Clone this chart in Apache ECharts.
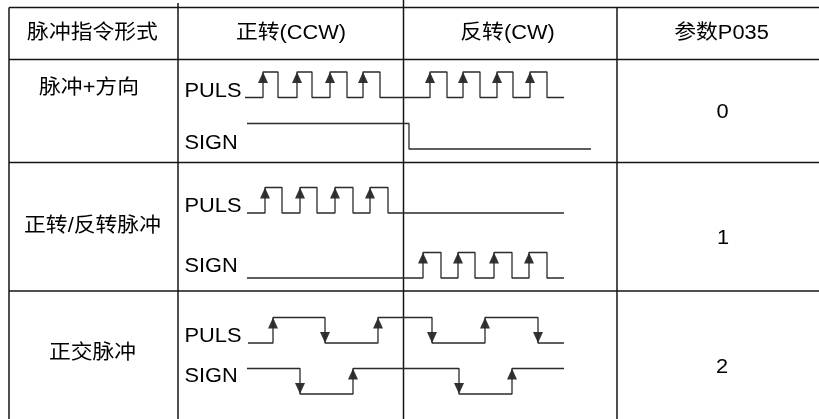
<!DOCTYPE html>
<html><head><meta charset="utf-8">
<script src="https://cdn.jsdelivr.net/npm/echarts@6/dist/echarts.min.js"></script>
<style>html,body{margin:0;padding:0;background:#fff}#c{width:819px;height:419px}</style>
</head><body><div id="c"></div>
<script>
// ---------- data ----------
const headers = ['脉冲指令形式', '正转(CCW)', '反转(CW)', '参数P035'];
const modes = ['脉冲+方向', '正转/反转脉冲', '正交脉冲'];
const paramValues = ['0', '1', '2'];
const signalNames = ['PULS', 'SIGN'];

// edge times (time units) of each waveform
const puls1Edges = [2.3, 3.8, 5.7, 7.2, 9.0, 10.7, 12.3, 14.0, 19.0, 20.7, 22.3, 24.0, 25.7, 27.3, 29.0, 30.7];
const sign1Edges = [16.9];
const puls2Edges = [2.5, 4.2, 6.0, 7.7, 9.5, 11.3, 13.0, 14.8];
const sign2Edges = [18.3, 20.1, 21.8, 23.5, 25.4, 27.2, 28.9, 30.7];
const puls3Edges = [3.3, 8.5, 13.8, 19.2, 24.5, 29.8];
const sign3Edges = [6.0, 11.3, 21.9, 27.2];
const waveStart = [0.5, 0.7, 0.7, 0.7, 0.8, 0.7];
const waveEnd = [32.4, 35.1, 32.4, 32.4, 32.4, 32.4];
const waveInit = [0, 1, 0, 0, 0, 1];
const waveEdges = [puls1Edges, sign1Edges, puls2Edges, sign2Edges, puls3Edges, sign3Edges];

// ---------- layout ----------
const LANE_LOW = [97.5, 149, 213, 278, 343, 394];
const AMP = 25.5;
const ARROW_MODE = ['rise', 'none', 'rise', 'rise', 'both', 'both'];
const LABEL_Y = [91, 143, 206, 266, 336, 376];
const COLS = [9, 178, 403.5, 617];
const ROWS = [7.5, 59.5, 162.5, 291];
const HEADER_X = [92.5, 291, 507.5, 721.5];
const HEADER_Y = 33;
const MODE_X = [89, 92.5, 92.5];
const MODE_Y = [88.5, 226.5, 353.5];
const PARAM_X = [722.5, 723, 722];
const PARAM_Y = [112.5, 238.5, 367.5];
const FONT = '"Liberation Sans", "Noto Sans CJK SC", sans-serif';
const SX = 1.09;

function wavePoints(i) {
  const low = LANE_LOW[i], high = low - AMP;
  const y = l => (l ? high : low);
  let lvl = waveInit[i];
  const pts = [[waveStart[i], y(lvl)]];
  waveEdges[i].forEach(t => { pts.push([t, y(lvl)]); lvl = 1 - lvl; pts.push([t, y(lvl)]); });
  pts.push([waveEnd[i], y(lvl)]);
  return pts;
}
function arrowPoints(i) {
  const low = LANE_LOW[i], high = low - AMP, mode = ARROW_MODE[i];
  let lvl = waveInit[i];
  const out = [];
  waveEdges[i].forEach(t => {
    const rising = lvl === 0; lvl = 1 - lvl;
    if (mode === 'none') return;
    if (rising) out.push({ value: [t, high], symbolRotate: 0, symbolOffset: [0, 5.5] });
    else if (mode === 'both') out.push({ value: [t, low], symbolRotate: 180, symbolOffset: [0, -5.5] });
  });
  return out;
}

const series = [];
for (let i = 0; i < 6; i++) {
  series.push({
    type: 'line', data: wavePoints(i), showSymbol: false, silent: true,
    lineStyle: { color: '#2a2a2a', width: 1.3 }, animation: false, clip: false
  });
  series.push({
    type: 'scatter', data: arrowPoints(i), symbol: 'triangle', symbolSize: [10, 11],
    itemStyle: { color: '#000' }, silent: true, animation: false, clip: false
  });
}

const g = [];
const line = (x1, y1, x2, y2) => g.push({ type: 'line', shape: { x1, y1, x2, y2 }, style: { stroke: '#151515', lineWidth: 1.5 }, silent: true });
line(COLS[0], ROWS[0], COLS[0], 419);
line(COLS[1], 3, COLS[1], 419);
line(COLS[2], 0, COLS[2], 419);
line(COLS[3], ROWS[0], COLS[3], 419);
ROWS.forEach(r => line(COLS[0], r, 819, r));

const txt = (text, x, y, align) => g.push({
  type: 'text', x, y, scaleX: SX, silent: true,
  style: { text, x: 0, y: 0, align: align || 'center', verticalAlign: 'middle', font: '20px ' + FONT, fill: '#000' }
});
headers.forEach((h, i) => txt(h, HEADER_X[i], HEADER_Y));
modes.forEach((m, i) => txt(m, MODE_X[i], MODE_Y[i]));
paramValues.forEach((p, i) => txt(p, PARAM_X[i], PARAM_Y[i]));
for (let i = 0; i < 6; i++) txt(signalNames[i % 2], 184.5, LABEL_Y[i], 'left');

const chart = echarts.init(document.getElementById('c'), null, { renderer: 'canvas' });
chart.setOption({
  animation: false,
  backgroundColor: '#fff',
  grid: { left: 240, right: 219, top: 0, bottom: 0 },
  xAxis: { type: 'value', min: 0, max: 36, show: false },
  yAxis: { type: 'value', min: 0, max: 419, inverse: true, show: false },
  series,
  graphic: { elements: g }
});
</script></body></html>
